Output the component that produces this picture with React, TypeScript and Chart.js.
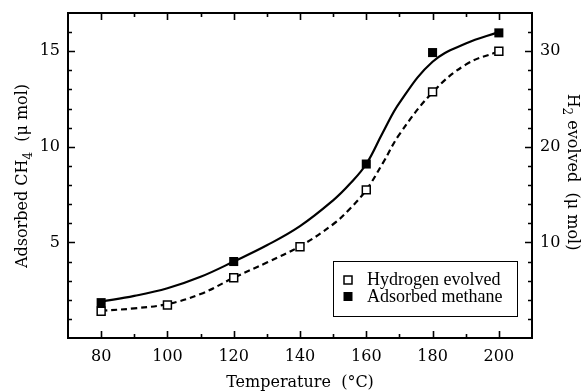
import React, { useEffect, useRef } from "react";
import { Chart, registerables } from "chart.js";

Chart.register(...registerables);

// ---- data ----
const temperatures = [80, 100, 120, 140, 160, 180, 200];
const hydrogenEvolved = [2.8, 3.45, 6.3, 9.55, 15.5, 25.75, 30.0]; // right axis (μmol)
const methaneTemperatures = [80, 120, 160, 180, 200];
const adsorbedMethane = [1.85, 4.0, 9.1, 14.93, 15.96]; // left axis (μmol)
const fitTemperatures = [80, 90, 100, 110, 120, 130, 140, 150, 155, 160, 165, 170, 180, 190, 200];
const methaneFit = [1.9, 2.2, 2.6, 3.2, 4.0, 4.85, 5.85, 7.2, 8.05, 9.1, 10.75, 12.3, 14.45, 15.4, 16.0];
const hydrogenFit = [2.85, 3.1, 3.55, 4.6, 6.3, 7.9, 9.6, 11.9, 13.5, 15.5, 18.3, 21.3, 25.7, 28.6, 30.0];
const xTicks = [80, 100, 120, 140, 160, 180, 200];
const leftTicks = [5, 10, 15];
const rightTicks = [10, 20, 30];
const legendLabels = ["Hydrogen evolved", "Adsorbed methane"];

const AXIS_FONT = "'DejaVu Serif', serif";
const LEGEND_FONT = "'Liberation Serif', 'Times New Roman', serif";

type Part = { text: string; sub?: boolean };

function drawRich(
  ctx: CanvasRenderingContext2D,
  parts: Part[],
  cx: number,
  cy: number,
  angle: number,
  size: number
) {
  ctx.save();
  ctx.translate(cx, cy);
  ctx.rotate(angle);
  const mainFont = `${size}px ${AXIS_FONT}`;
  const subFont = `${Math.round(size * 0.72)}px ${AXIS_FONT}`;
  let total = 0;
  const widths = parts.map((p) => {
    ctx.font = p.sub ? subFont : mainFont;
    const w = ctx.measureText(p.text).width;
    total += w;
    return w;
  });
  let x = -total / 2;
  ctx.textAlign = "left";
  ctx.textBaseline = "alphabetic";
  ctx.fillStyle = "#000";
  const base = size * 0.36;
  parts.forEach((p, i) => {
    ctx.font = p.sub ? subFont : mainFont;
    ctx.fillText(p.text, x, base + (p.sub ? size * 0.3 : 0));
    x += widths[i];
  });
  ctx.restore();
}

const framePlugin = {
  id: "frameAndDecor",
  afterDraw(chart: any) {
    const { ctx, chartArea, scales } = chart;
    const { left, right, top, bottom } = chartArea;
    const xs = scales.x;
    const yl = scales.y;
    const yr = scales.y1;
    ctx.save();
    ctx.strokeStyle = "#000";
    ctx.lineCap = "butt";

    // ticks (inward)
    const major = 7;
    const minor = 4;
    ctx.lineWidth = 1.6;
    ctx.beginPath();
    for (let v = xs.min + 10; v < xs.max; v += 10) {
      const px = Math.round(xs.getPixelForValue(v)) + 0.5;
      const len = xTicks.includes(v) ? major : minor;
      ctx.moveTo(px, bottom);
      ctx.lineTo(px, bottom - len);
      ctx.moveTo(px, top);
      ctx.lineTo(px, top + len);
    }
    for (let v = 1; v < yl.max; v += 1) {
      const py = Math.round(yl.getPixelForValue(v)) + 0.5;
      const len = leftTicks.includes(v) ? major : minor;
      ctx.moveTo(left, py);
      ctx.lineTo(left + len, py);
    }
    for (let v = 2; v < yr.max; v += 2) {
      const py = Math.round(yr.getPixelForValue(v)) + 0.5;
      const len = rightTicks.includes(v) ? major : minor;
      ctx.moveTo(right, py);
      ctx.lineTo(right - len, py);
    }
    ctx.stroke();

    // frame
    ctx.lineWidth = 2;
    ctx.strokeRect(left, top, right - left, bottom - top);

    // legend
    const bx = right - 199;
    const by = bottom - 77;
    const bw = 184;
    const bh = 55;
    ctx.lineWidth = 1;
    ctx.fillStyle = "#fff";
    ctx.fillRect(bx, by, bw, bh);
    ctx.strokeRect(bx + 0.5, by + 0.5, bw, bh);
    const rows = [by + 19, by + 35.5];
    const mx = bx + 15;
    ctx.lineWidth = 1.5;
    ctx.fillStyle = "#fff";
    ctx.fillRect(mx - 4, rows[0] - 4, 8, 8);
    ctx.strokeRect(mx - 4, rows[0] - 4, 8, 8);
    ctx.fillStyle = "#000";
    ctx.fillRect(mx - 4.5, rows[1] - 4.5, 9, 9);
    ctx.font = `18px ${LEGEND_FONT}`;
    ctx.textAlign = "left";
    ctx.textBaseline = "alphabetic";
    ctx.fillText(legendLabels[0], bx + 34, rows[0] + 5);
    ctx.fillText(legendLabels[1], bx + 34, rows[1] + 5);

    // axis titles
    drawRich(ctx, [{ text: "Adsorbed CH" }, { text: "4", sub: true }, { text: "  (\u03bc mol)" }], 21, 176, -Math.PI / 2, 16);
    drawRich(ctx, [{ text: "H" }, { text: "2", sub: true }, { text: " evolved  (\u03bc mol)" }], 574, 172, Math.PI / 2, 16);
    ctx.font = `16px ${AXIS_FONT}`;
    ctx.fillStyle = "#000";
    ctx.textAlign = "center";
    ctx.textBaseline = "alphabetic";
    ctx.fillText("Temperature  (\u00b0C)", (left + right) / 2, 387);
    ctx.restore();
  },
};

export default function App() {
  const ref = useRef<HTMLCanvasElement | null>(null);

  useEffect(() => {
    if (!ref.current) return;
    const tickFont = { family: AXIS_FONT, size: 16 };
    const noPad = (s: any) => {
      s.paddingTop = 0;
      s.paddingBottom = 0;
      s.paddingLeft = 0;
      s.paddingRight = 0;
    };
    const chart = new Chart(ref.current, {
      type: "scatter",
      data: {
        datasets: [
          {
            label: legendLabels[1],
            data: methaneTemperatures.map((t, i) => ({ x: t, y: adsorbedMethane[i] })),
            yAxisID: "y",
            showLine: false,
            pointStyle: "rect",
            pointRadius: 6.4,
            pointBackgroundColor: "#000",
            pointBorderColor: "#000",
            pointBorderWidth: 0,
          },
          {
            label: legendLabels[0],
            data: temperatures.map((t, i) => ({ x: t, y: hydrogenEvolved[i] })),
            yAxisID: "y1",
            showLine: false,
            pointStyle: "rect",
            pointRadius: 5.6,
            pointBackgroundColor: "#fff",
            pointBorderColor: "#000",
            pointBorderWidth: 1.5,
          },
          {
            label: "methane fit",
            data: fitTemperatures.map((t, i) => ({ x: t, y: methaneFit[i] })),
            yAxisID: "y",
            showLine: true,
            borderColor: "#000",
            borderWidth: 2.2,
            pointRadius: 0,
            tension: 0.4,
          },
          {
            label: "hydrogen fit",
            data: fitTemperatures.map((t, i) => ({ x: t, y: hydrogenFit[i] })),
            yAxisID: "y1",
            showLine: true,
            borderColor: "#000",
            borderWidth: 2.2,
            borderDash: [6, 4],
            pointRadius: 0,
            tension: 0.4,
          },
        ],
      },
      options: {
        responsive: false,
        animation: false,
        layout: { padding: { top: 13, left: 0, right: 0, bottom: 0 } },
        plugins: { legend: { display: false }, tooltip: { enabled: false } },
        scales: {
          x: {
            type: "linear",
            position: "bottom",
            min: 70,
            max: 210,
            afterBuildTicks: (s: any) => {
              s.ticks = xTicks.map((v) => ({ value: v }));
            },
            afterFit: (s: any) => {
              s.height = 54;
              noPad(s);
            },
            grid: { display: false, drawTicks: false },
            border: { display: false },
            ticks: { font: tickFont, color: "#000", padding: 9, maxRotation: 0, autoSkip: false },
          },
          y: {
            type: "linear",
            position: "left",
            min: 0,
            max: 17,
            afterBuildTicks: (s: any) => {
              s.ticks = leftTicks.map((v) => ({ value: v }));
            },
            afterFit: (s: any) => {
              s.width = 68;
              noPad(s);
            },
            grid: { display: false, drawTicks: false },
            border: { display: false },
            ticks: { font: tickFont, color: "#000", padding: 8 },
          },
          y1: {
            type: "linear",
            position: "right",
            min: 0,
            max: 34,
            afterBuildTicks: (s: any) => {
              s.ticks = rightTicks.map((v) => ({ value: v }));
            },
            afterFit: (s: any) => {
              s.width = 50;
              noPad(s);
            },
            grid: { display: false, drawTicks: false },
            border: { display: false },
            ticks: { font: tickFont, color: "#000", padding: 8 },
          },
        },
      },
      plugins: [framePlugin],
    } as any);
    return () => chart.destroy();
  }, []);

  return (
    <div style={{ position: "absolute", left: 0, top: 0, width: 582, height: 392, background: "#fff" }}>
      <canvas ref={ref} width={582} height={392} />
    </div>
  );
}
